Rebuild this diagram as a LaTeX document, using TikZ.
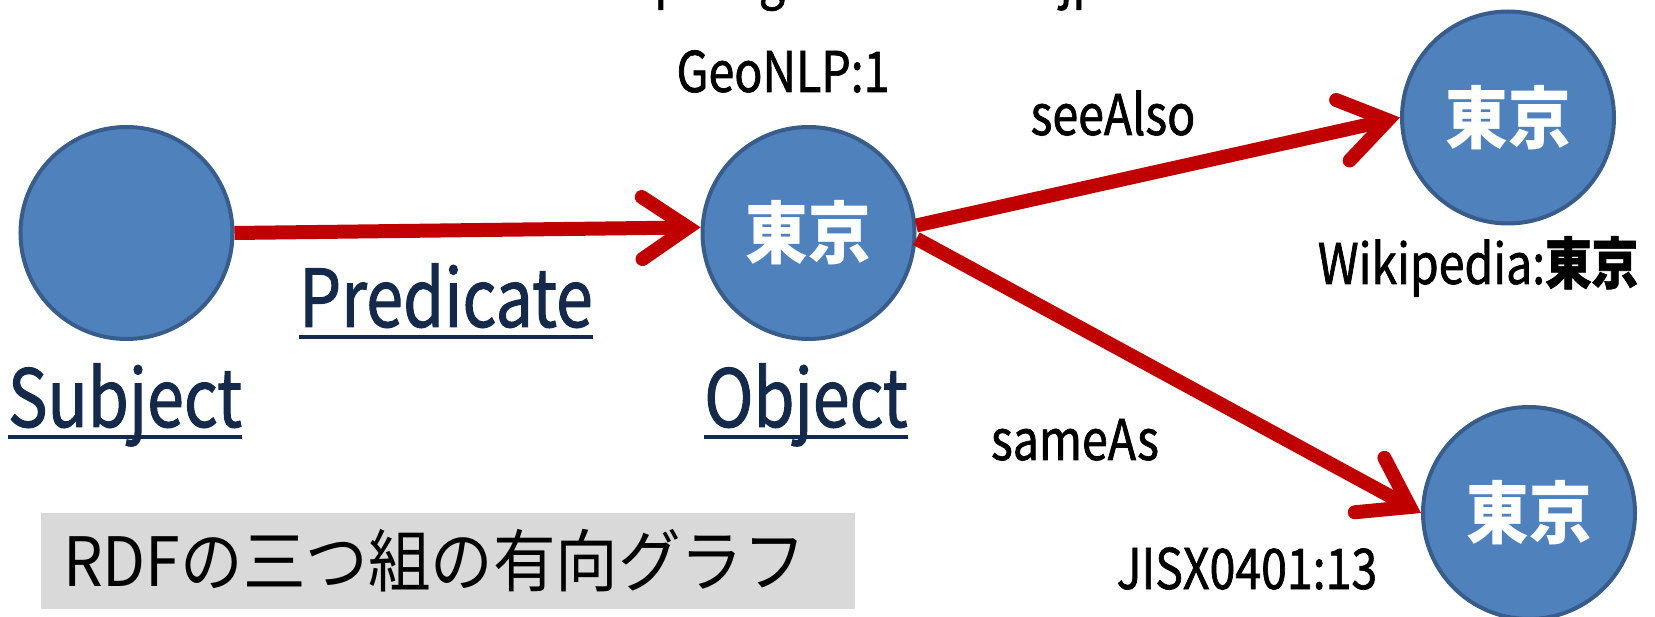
\documentclass[tikz,border=0pt]{standalone}
\usepackage{fontspec}
\setmainfont{Noto Sans CJK JP}[FakeStretch=0.83, FakeBold=1.2]
\newfontfamily\widefont{Noto Sans CJK JP}[FakeStretch=0.92]
\usetikzlibrary{arrows.meta}
\definecolor{circfill}{HTML}{4F81BD}
\definecolor{circdraw}{HTML}{385D8A}
\definecolor{arrowred}{HTML}{C00000}
\definecolor{navy}{HTML}{15294A}
\definecolor{boxgray}{HTML}{D9D9D9}
\newcommand{\upslash}[1]{\raisebox{12pt}{#1}}
\tikzset{
  res/.style={circle, fill=circfill, draw=circdraw, line width=4pt, minimum size=212pt, inner sep=0pt,
    text=white, font=\fontsize{68}{72}\widefont\bfseries},
  rel/.style={draw=arrowred, line width=14pt,
    -{Straight Barb[length=46pt, width=62pt, line cap=round, line join=miter]}},
  lbl/.style={anchor=base, inner sep=0pt, font=\fontsize{56}{60}\selectfont},
  role/.style={anchor=base, inner sep=0pt, text=navy, font=\fontsize{80}{84}\selectfont},
  uline/.style={draw=navy, line width=4pt},
  titlebox/.style={anchor=west, fill=boxgray, minimum height=96pt, text width=770pt, align=left,
    inner xsep=22pt, inner ysep=0pt, font=\fontsize{68}{72}\widefont}
}
\begin{document}
\begin{tikzpicture}[x=1pt, y=-1pt]
\useasboundingbox (0,0) rectangle (1655,617);
\begin{scope}
\clip (0,0) rectangle (1655,617);
\node[lbl, anchor=base west] (url) at (592,-3) {http:\upslash{//}agora.ex.nii.ac.jp\upslash{/}};
\end{scope}

\node[res] (subj) at (126.5,233) {};
\node[res] (obj) at (808.5,233) {東京};
\node[res] (tr) at (1508,117.5) {東京};
\node[res] (br) at (1529,513) {東京};

\draw[rel] (subj.east) -- (obj.177);
\draw[rel] (obj.4) -- (tr.west);
\draw[rel] (obj.-3) -- (br.west);

\node[lbl] (geo) at (783,92) {GeoNLP:1};
\node[lbl] (see) at (1113,135) {seeAlso};
\node[lbl] (wiki) at (1478,284) {Wikipedia:\textbf{東京}};
\node[lbl] (same) at (1075,460) {sameAs};
\node[lbl] (jis) at (1247,589) {JISX0401:13};

\node[role] (pred) at (446,327) {Predicate};
\node[role] (subjl) at (125,427) {Subject};
\node[role] (objl) at (806,427) {Object};
\draw[uline] ([yshift=-10pt]pred.base west) -- ([yshift=-10pt]pred.base east);
\draw[uline] ([yshift=-10pt]subjl.base west) -- ([yshift=-10pt]subjl.base east);
\draw[uline] ([yshift=-10pt]objl.base west) -- ([yshift=-10pt]objl.base east);

\node[titlebox] (title) at (41,561) {RDFの三つ組の有向グラフ};
\end{tikzpicture}
\end{document}
